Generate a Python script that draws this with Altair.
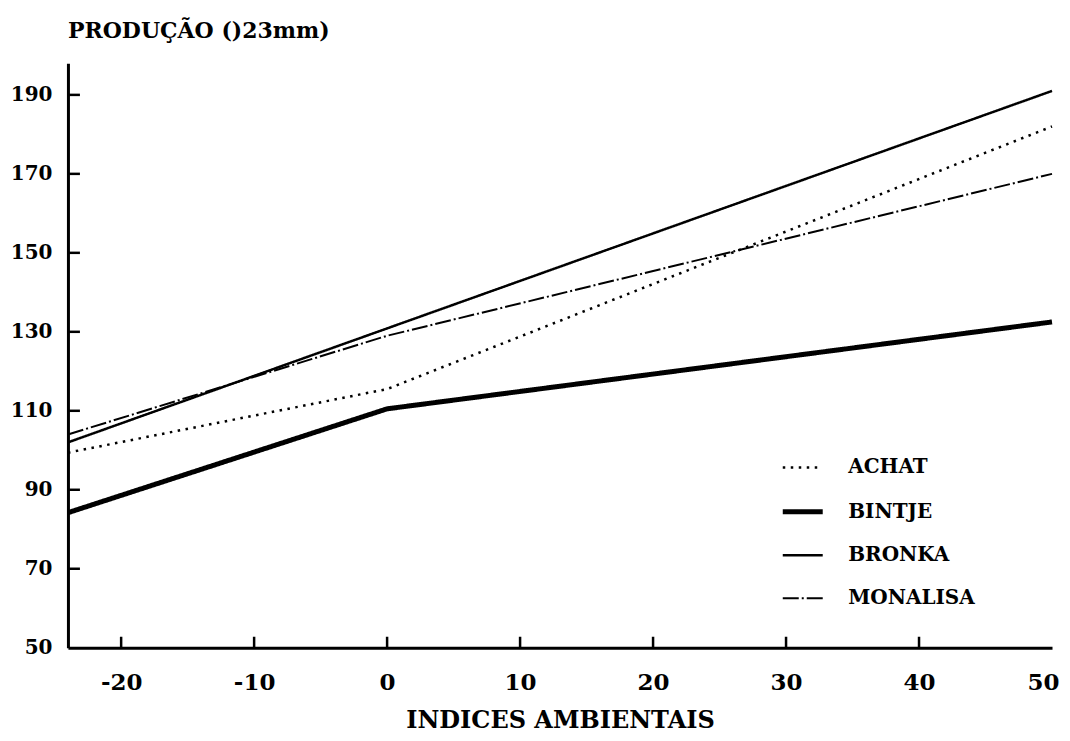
import altair as alt
import pandas as pd

# ---- data ----
varieties = ["ACHAT", "BINTJE", "BRONKA", "MONALISA"]
achat_x = [-24, 0, 50]
achat_y = [99.4, 115.5, 182.0]
bintje_x = [-24, 0, 50]
bintje_y = [84.2, 110.5, 132.5]
bronka_x = [-24, 50]
bronka_y = [102.0, 191.0]
monalisa_x = [-24, 0, 50]
monalisa_y = [104.0, 129.0, 170.0]

x_ticks = [-20, -10, 0, 10, 20, 30, 40, 50]
x_inner_ticks = [-20, -10, 0, 10, 20, 30, 40]
y_ticks = [50, 70, 90, 110, 130, 150, 170, 190]
y_inner_ticks = [70, 90, 110, 130, 150, 170, 190]

x_title = "INDICES AMBIENTAIS"
y_title = "PRODUÇÃO ()23mm)"

rows = []
for name, xs, ys in [
    ("ACHAT", achat_x, achat_y),
    ("BINTJE", bintje_x, bintje_y),
    ("BRONKA", bronka_x, bronka_y),
    ("MONALISA", monalisa_x, monalisa_y),
]:
    for i, (xv, yv) in enumerate(zip(xs, ys)):
        rows.append({"variety": name, "x": xv, "y": yv, "order": i})
df = pd.DataFrame(rows)

FONT = "DejaVu Serif"
W, H = 985, 585

xscale = alt.Scale(domain=[-24, 50], nice=False, zero=False)
yscale = alt.Scale(domain=[50, 198], nice=False, zero=False)

legend = alt.Legend(title=None, orient="none", legendX=713, legendY=383,
                    symbolType="stroke", symbolSize=1600,
                    symbolStrokeColor="black", labelOffset=23,
                    rowPadding=11.5, padding=0,
                    labelFont=FONT, labelFontSize=20, labelFontWeight="bold",
                    labelColor="black")

lines = alt.Chart(df).mark_line(color="black", strokeCap="butt").encode(
    x=alt.X("x:Q", scale=xscale,
            axis=alt.Axis(values=x_ticks, title=x_title, labelExpr="'' + datum.value",
                          ticks=False, labelPadding=24, titlePadding=14,
                          labelFontSize=23, labelFlush=True, labelFlushOffset=7)),
    y=alt.Y("y:Q", scale=yscale,
            axis=alt.Axis(values=y_ticks, title=None, ticks=False, labelPadding=16,
                          labelFontSize=20)),
    order="order:Q",
    strokeDash=alt.StrokeDash(
        "variety:N",
        scale=alt.Scale(domain=varieties,
                        range=[[2.5, 5.5], [1, 0], [1, 0], [16, 3, 2, 3]]),
        legend=legend,
    ),
    strokeWidth=alt.StrokeWidth(
        "variety:N",
        scale=alt.Scale(type="ordinal", domain=varieties, range=[2.5, 5, 2.5, 2]),
        legend=legend,
    ),
)

yt = pd.DataFrame({"v": y_inner_ticks})
xt = pd.DataFrame({"v": x_inner_ticks})

ytick_marks = alt.Chart(yt).mark_rule(color="black", strokeWidth=2.5).encode(
    y=alt.Y("v:Q", scale=yscale), x=alt.value(0), x2=alt.value(12)
)
xtick_marks = alt.Chart(xt).mark_rule(color="black", strokeWidth=2.5).encode(
    x=alt.X("v:Q", scale=xscale), y=alt.value(H), y2=alt.value(H - 11)
)

chart = alt.layer(lines, ytick_marks, xtick_marks).properties(
    width=W, height=H,
    padding={"left": 2, "top": 12, "right": 0, "bottom": 0},
    title=alt.TitleParams(y_title, anchor="start", frame="group", font=FONT,
                          fontSize=22, fontWeight="bold", color="black", offset=20),
).configure_view(stroke=None).configure_axis(
    domainColor="black", domainWidth=3, grid=False,
    labelFont=FONT, labelFontWeight="bold", labelColor="black",
    titleFont=FONT, titleFontSize=24, titleFontWeight="bold", titleColor="black",
)

chart.save("out.html", embed_options={"renderer": "svg", "actions": False})
